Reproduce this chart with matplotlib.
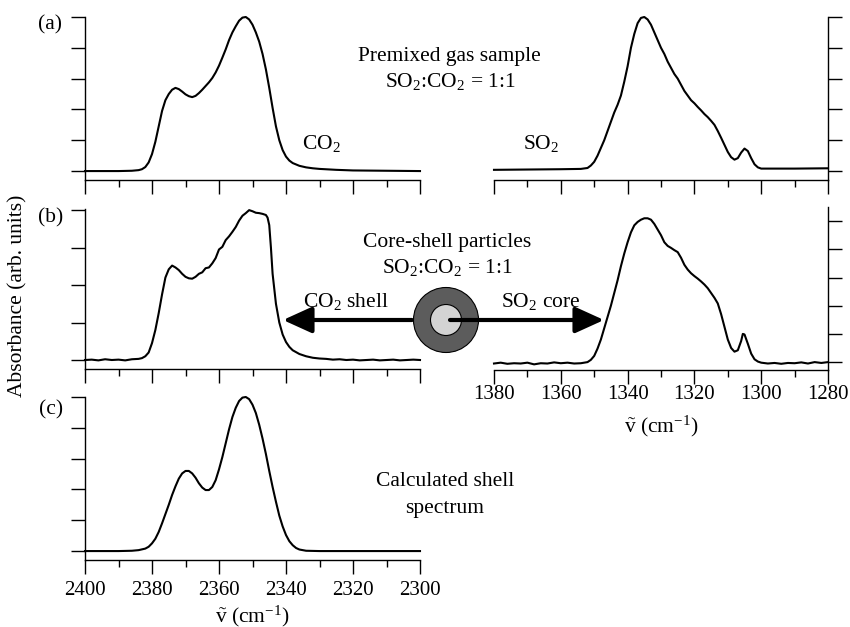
import matplotlib
matplotlib.use("Agg")
import matplotlib.pyplot as plt
from matplotlib.patches import Circle
from matplotlib.ticker import MultipleLocator

plt.rcParams['font.family'] = 'Liberation Serif'
plt.rcParams['mathtext.fontset'] = 'custom'
plt.rcParams['mathtext.rm'] = 'Liberation Serif'
plt.rcParams['mathtext.it'] = 'Liberation Serif:italic'
plt.rcParams['axes.linewidth'] = 1.0

# (a) premixed gas, CO2 band
co2_mix_wn = [2400, 2390, 2386, 2384, 2383, 2382, 2381, 2380, 2379, 2378, 2377, 2376, 2375,
              2374, 2373, 2372, 2371, 2370, 2369, 2368, 2367, 2366, 2365, 2364, 2363, 2362,
              2361, 2360, 2359, 2358, 2357, 2356, 2355, 2354, 2353, 2352, 2351, 2350, 2349,
              2348, 2347, 2346, 2345, 2344, 2343, 2342, 2341, 2340, 2339, 2338, 2336, 2334,
              2332, 2330, 2325, 2320, 2310, 2300]
co2_mix_abs = [0.0, 0.0, 0.01, 0.03, 0.06, 0.13, 0.28, 0.55, 0.95, 1.45, 1.95, 2.3, 2.5,
               2.64, 2.7, 2.66, 2.58, 2.49, 2.43, 2.4, 2.44, 2.53, 2.64, 2.76, 2.88, 3.02,
               3.2, 3.42, 3.68, 3.95, 4.25, 4.5, 4.7, 4.88, 4.98, 5.0, 4.92, 4.75, 4.5,
               4.2, 3.8, 3.3, 2.7, 2.05, 1.45, 1.0, 0.68, 0.47, 0.34, 0.26, 0.17, 0.12,
               0.09, 0.07, 0.04, 0.02, 0.01, 0.0]

# (a) premixed gas, SO2 band
so2_mix_wn = [1380, 1370, 1360, 1354, 1352, 1351, 1350, 1349, 1348, 1347, 1346, 1345, 1344,
              1343, 1342, 1341, 1340, 1339, 1338, 1337, 1336, 1335, 1334, 1333, 1332, 1331,
              1330, 1329, 1328, 1327, 1326, 1325, 1324, 1323, 1322, 1321, 1320, 1319, 1318,
              1317, 1316, 1315, 1314, 1313, 1312, 1311, 1310, 1309, 1308, 1307, 1306, 1305,
              1304, 1303, 1302, 1301, 1300, 1290, 1280]
so2_mix_abs = [0.04, 0.05, 0.06, 0.07, 0.1, 0.18, 0.3, 0.5, 0.75, 1.0, 1.3, 1.6, 1.9,
               2.15, 2.45, 2.9, 3.4, 4.0, 4.45, 4.8, 4.97, 5.0, 4.92, 4.75, 4.5, 4.25,
               4.0, 3.8, 3.55, 3.35, 3.15, 3.0, 2.8, 2.6, 2.45, 2.3, 2.2, 2.08, 1.97,
               1.85, 1.75, 1.63, 1.5, 1.3, 1.08, 0.85, 0.62, 0.45, 0.37, 0.42, 0.6, 0.73,
               0.65, 0.42, 0.22, 0.12, 0.08, 0.08, 0.09]

# (b) core-shell particles, CO2 band
co2_cs_wn = [2400, 2398, 2396, 2394, 2392, 2390, 2388, 2386, 2384, 2383, 2382, 2381, 2380,
             2379, 2378, 2377, 2376, 2375, 2374, 2373, 2372, 2371, 2370, 2369, 2368, 2367,
             2366, 2365, 2364, 2363, 2362, 2361, 2360, 2359, 2358, 2357, 2356, 2355, 2354,
             2353, 2352, 2351, 2350, 2349, 2348, 2347, 2346, 2345.5, 2345, 2344.5, 2344,
             2343, 2342, 2341, 2340, 2339, 2338, 2336, 2334, 2332, 2330, 2328, 2326, 2324,
             2322, 2320, 2318, 2316, 2314, 2312, 2310, 2308, 2306, 2304, 2302, 2300]
co2_cs_abs = [0.0, 0.01, -0.01, 0.02, 0.0, 0.01, -0.01, 0.02, 0.03, 0.05, 0.1, 0.2, 0.45,
              0.8, 1.25, 1.75, 2.2, 2.42, 2.52, 2.47, 2.4, 2.3, 2.22, 2.18, 2.17, 2.22,
              2.3, 2.34, 2.45, 2.47, 2.58, 2.72, 2.95, 3.02, 3.2, 3.3, 3.42, 3.55, 3.72,
              3.85, 3.92, 4.0, 3.97, 3.93, 3.92, 3.9, 3.87, 3.8, 3.6, 3.0, 2.3,
              1.5, 1.0, 0.68, 0.48, 0.35, 0.26, 0.16, 0.1, 0.06, 0.04, 0.03, 0.01, 0.02,
              0.0, 0.01, -0.01, 0.0, 0.01, -0.01, 0.0, 0.01, -0.01, 0.0, 0.01, 0.0]

# (b) core-shell particles, SO2 band
so2_cs_wn = [1380, 1378, 1376, 1374, 1372, 1370, 1368, 1366, 1364, 1362, 1360, 1358, 1356,
             1354, 1352, 1351, 1350, 1349, 1348, 1347, 1346, 1345, 1344, 1343, 1342, 1341,
             1340, 1339, 1338, 1337, 1336, 1335, 1334, 1333, 1332, 1331, 1330, 1329, 1328,
             1327, 1326, 1325, 1324, 1323, 1322, 1321, 1320, 1319, 1318, 1317, 1316, 1315,
             1314, 1313, 1312, 1311, 1310, 1309, 1308, 1307, 1306, 1305.5, 1305, 1304, 1303,
             1302, 1301, 1300, 1298, 1296, 1294, 1292, 1290, 1288, 1286, 1284, 1282, 1280]
so2_cs_abs = [-0.05, -0.02, -0.06, -0.04, -0.05, -0.02, -0.08, -0.04, -0.05, -0.01, -0.04,
              -0.02, -0.05, -0.04, 0.0, 0.08, 0.22, 0.48, 0.8, 1.2, 1.6, 2.0, 2.45, 2.9,
              3.4, 3.85, 4.25, 4.6, 4.85, 4.97, 5.05, 5.1, 5.1, 5.05, 4.9, 4.7, 4.5, 4.25,
              4.12, 4.05, 3.97, 3.9, 3.7, 3.45, 3.28, 3.15, 3.05, 2.96, 2.86, 2.75, 2.62,
              2.45, 2.28, 2.08, 1.7, 1.25, 0.8, 0.5, 0.37, 0.42, 0.75, 1.0, 0.98, 0.65,
              0.3, 0.1, 0.02, -0.02, -0.05, -0.03, -0.06, -0.03, -0.04, -0.01, -0.05, 0.0,
              -0.03, 0.0]

# (c) calculated shell spectrum
calc_wn = [2400, 2390, 2386, 2384, 2382, 2381, 2380, 2379, 2378, 2377, 2376, 2375, 2374,
           2373, 2372, 2371, 2370, 2369, 2368, 2367, 2366, 2365, 2364, 2363, 2362, 2361,
           2360, 2359, 2358, 2357, 2356, 2355, 2354, 2353, 2352, 2351, 2350, 2349, 2348,
           2347, 2346, 2345, 2344, 2343, 2342, 2341, 2340, 2339, 2338, 2337, 2336, 2334,
           2330, 2300]
calc_abs = [0.0, 0.0, 0.01, 0.03, 0.08, 0.14, 0.25, 0.4, 0.62, 0.9, 1.2, 1.5, 1.82,
            2.1, 2.35, 2.52, 2.6, 2.6, 2.52, 2.38, 2.2, 2.06, 1.98, 1.98, 2.08, 2.3,
            2.65, 3.05, 3.5, 3.95, 4.35, 4.65, 4.87, 4.98, 5.0, 4.93, 4.75, 4.48, 4.1,
            3.65, 3.15, 2.6, 2.08, 1.6, 1.15, 0.8, 0.52, 0.32, 0.19, 0.1, 0.05, 0.01,
            0.0, 0.0]

W, H = 850, 627
FS = 15.5


def frac(x0, y_top, x1, y_bot):
    return [x0 / W, 1 - y_bot / H, (x1 - x0) / W, (y_bot - y_top) / H]


def style_axis(ax, xlim, ylim, n_yticks, side, show_labels):
    ax.set_xlim(*xlim)
    ax.set_ylim(*ylim)
    ax.set_facecolor('none')
    ax.spines['top'].set_visible(False)
    ax.spines['left' if side == 'right' else 'right'].set_visible(False)
    ax.xaxis.set_major_locator(MultipleLocator(20))
    ax.xaxis.set_minor_locator(MultipleLocator(10))
    ax.set_yticks(range(n_yticks))
    ax.tick_params(axis='x', which='major', direction='out', length=10, width=1.0,
                   labelsize=15, pad=4, labelbottom=show_labels)
    ax.tick_params(axis='x', which='minor', direction='out', length=5, width=1.0)
    ax.tick_params(axis='y', direction='out', length=10, width=1.0, labelleft=False,
                   labelright=False, left=(side == 'left'), right=(side == 'right'))


fig = plt.figure(figsize=(W / 100, H / 100), dpi=100)

ax_a1 = fig.add_axes(frac(85, 17, 420, 180))
ax_a2 = fig.add_axes(frac(494, 17, 828, 180))
ax_b1 = fig.add_axes(frac(85, 209, 420, 369))
ax_b2 = fig.add_axes(frac(494, 207, 828, 370))
ax_c1 = fig.add_axes(frac(85, 397, 420, 560))

style_axis(ax_a1, (2400, 2300), (-0.29, 5.0), 6, 'left', False)
style_axis(ax_a2, (1380, 1280), (-0.29, 5.0), 6, 'right', False)
style_axis(ax_b1, (2400, 2300), (-0.24, 4.03), 5, 'left', False)
style_axis(ax_b2, (1380, 1280), (-0.28, 5.5), 6, 'right', True)
style_axis(ax_c1, (2400, 2300), (-0.29, 5.0), 6, 'left', True)
ax_c1.tick_params(axis='x', which='major', pad=5)
ax_b2.tick_params(axis='x', which='major', pad=0.5)

line_kw = dict(color='black', lw=1.5, clip_on=False)
ax_a1.plot(co2_mix_wn, co2_mix_abs, **line_kw)
ax_a2.plot(so2_mix_wn, so2_mix_abs, **line_kw)
ax_b1.plot(co2_cs_wn, co2_cs_abs, **line_kw)
ax_b2.plot(so2_cs_wn, so2_cs_abs, **line_kw)
ax_c1.plot(calc_wn, calc_abs, **line_kw)

xlab = r'$\tilde{\mathrm{v}}$ (cm$^{-1}$)'
ax_c1.set_xlabel(xlab, fontsize=FS, labelpad=3)
ax_b2.set_xlabel(xlab, fontsize=FS, labelpad=7)

# overlay in pixel units for labels, arrows and the particle sketch
ov = fig.add_axes([0, 0, 1, 1])
ov.set_xlim(0, W)
ov.set_ylim(H, 0)
ov.axis('off')
ov.patch.set_alpha(0)

txt = dict(fontsize=FS, ha='center', va='center')
ov.text(50, 25, '(a)', **txt)
ov.text(51, 218, '(b)', **txt)
ov.text(51, 410, '(c)', **txt)
ov.text(18, 296, 'Absorbance (arb. units)', rotation=90, **txt)
ov.text(449, 57, 'Premixed gas sample', **txt)
ov.text(450, 82, 'SO$_2$:CO$_2$ = 1:1', **txt)
ov.text(321, 143, 'CO$_2$', **txt)
ov.text(541, 143, 'SO$_2$', **txt)
ov.text(447, 243, 'Core-shell particles', **txt)
ov.text(447, 268, 'SO$_2$:CO$_2$ = 1:1', **txt)
ov.text(346, 302, 'CO$_2$ shell', **txt)
ov.text(541, 302, 'SO$_2$ core', **txt)
ov.text(445, 482, 'Calculated shell', **txt)
ov.text(445, 508, 'spectrum', **txt)

arrow_kw = dict(arrowstyle='-|>,head_length=1.1,head_width=0.5', lw=3.0,
                color='black', shrinkA=0, shrinkB=0, mutation_scale=16)
ov.annotate('', xy=(283, 320), xytext=(412, 320), arrowprops=arrow_kw)
ov.add_patch(Circle((446, 320), 32.5, facecolor='#5c5c5c', edgecolor='black', lw=0.8))
ov.add_patch(Circle((446, 320), 15.5, facecolor='#d3d3d3', edgecolor='black', lw=0.8))
ov.annotate('', xy=(604, 320), xytext=(450, 320), arrowprops=arrow_kw)

fig.savefig('out.png', dpi=100)
